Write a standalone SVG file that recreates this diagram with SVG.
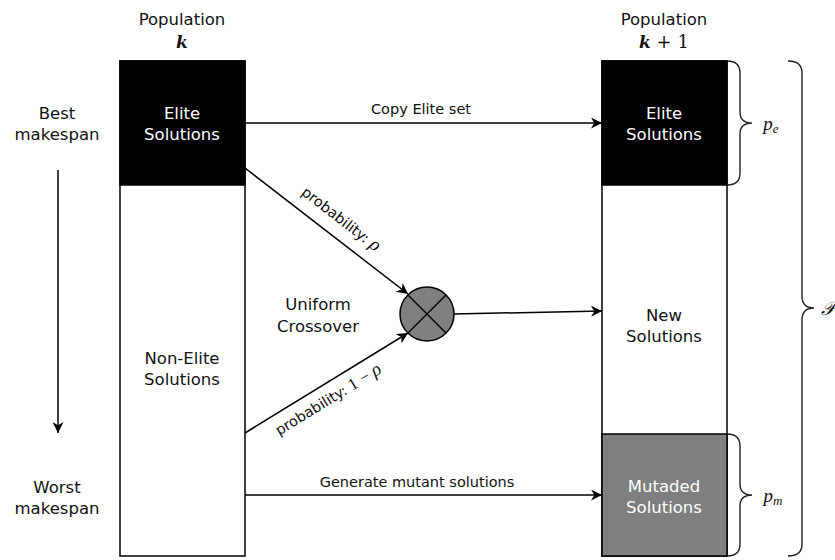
<svg xmlns="http://www.w3.org/2000/svg" width="835" height="560" viewBox="0 0 835 560">
<defs>
<marker id="ah" viewBox="0 0 10 10" refX="10" refY="5" markerWidth="11" markerHeight="11" markerUnits="userSpaceOnUse" orient="auto">
<path d="M0,0 L10,5 L0,10 L3,5 Z" fill="#000"/>
</marker>
<style>
text{font-family:"DejaVu Sans","Liberation Sans",Arial,sans-serif;font-size:16.5px;fill:#111;text-anchor:middle}
.s{font-size:14.5px}
.w{fill:#fff}
.m{font-family:"Liberation Serif","DejaVu Serif",serif;font-style:italic;font-size:19px}
.mb{font-family:"DejaVu Serif","Liberation Serif",serif;font-style:italic;font-weight:bold;font-size:17px}
.ln{stroke:#000;stroke-width:1.5;fill:none}
.br{stroke:#222;stroke-width:1.4;fill:none}
</style>
</defs>
<rect width="835" height="560" fill="#fff"/>

<g id="labels-left">
<text x="57" y="119">Best</text>
<text x="57" y="140">makespan</text>
<text x="57" y="493">Worst</text>
<text x="57" y="514">makespan</text>
</g>

<g id="pop-k">
<text x="182" y="25">Population</text>
<text x="182" y="48" class="mb">k</text>
<rect x="120" y="61" width="125" height="495" fill="#fff" stroke="#000" stroke-width="1.5"/>
</g>
<g id="elite-k">
<rect x="120" y="61" width="125" height="124" fill="#000" stroke="#000" stroke-width="1.5"/>
<text x="182" y="119" class="w">Elite</text>
<text x="182" y="140" class="w">Solutions</text>
</g>
<g id="nonelite-k">
<text x="182" y="364">Non-Elite</text>
<text x="182" y="385">Solutions</text>
</g>

<g id="pop-k1">
<text x="664" y="25">Population</text>
<text x="664" y="48" class="mb">k<tspan font-weight="normal" font-style="normal" font-size="18"> + 1</tspan></text>
<rect x="602" y="61" width="125" height="495" fill="#fff" stroke="#000" stroke-width="1.5"/>
</g>
<g id="elite-k1">
<rect x="602" y="61" width="125" height="124" fill="#000" stroke="#000" stroke-width="1.5"/>
<text x="664" y="119" class="w">Elite</text>
<text x="664" y="140" class="w">Solutions</text>
</g>
<g id="new-k1">
<text x="664" y="321">New</text>
<text x="664" y="342">Solutions</text>
</g>
<g id="mutated-k1">
<rect x="602" y="434" width="125" height="122" fill="#7f7f7f" stroke="#000" stroke-width="1.5"/>
<text x="664" y="492" class="w">Mutaded</text>
<text x="664" y="513" class="w">Solutions</text>
</g>

<g id="crossover">
<circle cx="427" cy="314" r="27" fill="#808080" stroke="#000" stroke-width="1.5"/>
<line x1="408" y1="295" x2="446" y2="333" class="ln"/>
<line x1="446" y1="295" x2="408" y2="333" class="ln"/>
<text x="318" y="310">Uniform</text>
<text x="318" y="332">Crossover</text>
</g>

<g id="braces">
<path class="br" d="M727,61 Q740,61 740,73 L740,112 Q740,123 752,123 Q740,123 740,134 L740,173 Q740,185 727,185"/>
<path class="br" d="M727,434 Q740,434 740,446 L740,484 Q740,495 752,495 Q740,495 740,506 L740,544 Q740,556 727,556"/>
<path class="br" d="M788,61 Q802,61 802,73 L802,296 Q802,308 814,308 Q802,308 802,320 L802,544 Q802,556 788,556"/>
<text x="771" y="130" class="m">p<tspan font-size="13" dy="3">e</tspan></text>
<text x="773" y="502" class="m">p<tspan font-size="13" dy="3">m</tspan></text>
<text x="821" y="315" class="m" style="text-anchor:start">𝒫</text>
</g>

<g id="connectors">
<line x1="58" y1="170" x2="58" y2="433" class="ln" marker-end="url(#ah)"/>
<line x1="245" y1="123" x2="602" y2="123" class="ln" marker-end="url(#ah)"/>
<text x="421" y="114" class="s">Copy Elite set</text>
<line x1="245" y1="168" x2="408" y2="294" class="ln" marker-end="url(#ah)"/>
<text x="0" y="0" class="s" transform="translate(338,223) rotate(37.7)">probability: <tspan class="m" font-size="16">ρ</tspan></text>
<line x1="245" y1="433" x2="408" y2="333" class="ln" marker-end="url(#ah)"/>
<text x="0" y="0" class="s" transform="translate(331,404) rotate(-31.5)">probability: <tspan font-family="Liberation Serif,serif" font-size="17">1 − </tspan><tspan class="m" font-size="16">ρ</tspan></text>
<line x1="454" y1="314" x2="602" y2="311" class="ln" marker-end="url(#ah)"/>
<line x1="245" y1="495" x2="602" y2="495" class="ln" marker-end="url(#ah)"/>
<text x="417" y="487" class="s">Generate mutant solutions</text>
</g>
</svg>
